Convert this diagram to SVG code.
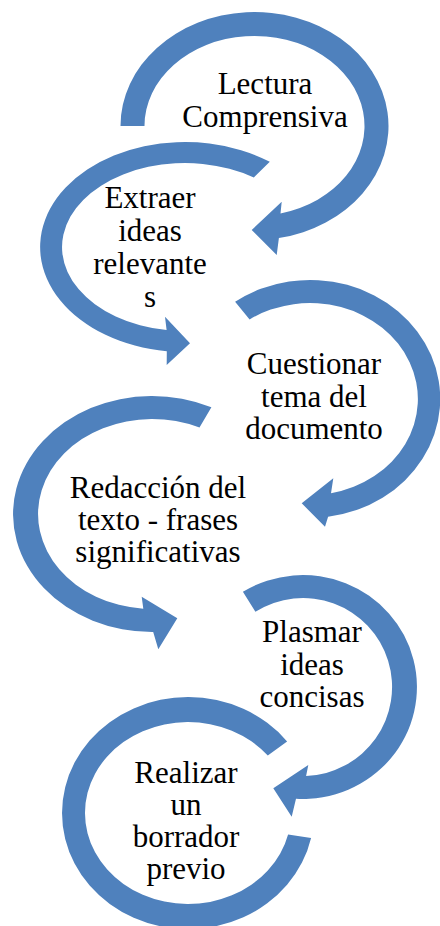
<svg xmlns="http://www.w3.org/2000/svg" width="440" height="926" viewBox="0 0 440 926">
<style>
.arc{fill:#4F81BD;stroke:none}
.t{font-family:"Liberation Serif","Times New Roman",serif;font-size:31px;fill:#000;text-anchor:middle}
</style>
<rect width="440" height="926" fill="#fff"/>
<g id="connectors"></g>
<g id="node1">
<path class="arc" d="M120.5,126 A134,114 0 1 1 278.9,238.1 L276.7,255 L251.7,230 L281.7,201.7 L280.5,213.4 A110,90 0 1 0 144.5,126 Z"/>
<text class="t" x="265" y="94">Lectura</text>
<text class="t" x="265" y="126.5">Comprensiva</text>
</g>
<g id="node2">
<path class="arc" d="M269.8,161.8 A145,105 0 1 0 166.8,351.2 L166.7,365 L190,343.3 L165,316.7 L166.6,330.1 A123,84 0 1 1 253.8,177.4 Z"/>
<text class="t" x="150" y="208">Extraer</text>
<text class="t" x="150" y="241">ideas</text>
<text class="t" x="150" y="273.5">relevante</text>
<text class="t" x="150" y="306.5">s</text>
</g>
<g id="node3">
<path class="arc" d="M235.1,301.8 A130,119 0 1 1 328.1,516.8 L325,526.7 L301.7,503.3 L333.3,478.3 L331,493.2 A108,96 0 1 0 249.6,319.4 Z"/>
<text class="t" x="314" y="374">Cuestionar</text>
<text class="t" x="314" y="406.5">tema del</text>
<text class="t" x="314" y="438.5">documento</text>
</g>
<g id="node4">
<path class="arc" d="M211.4,407.3 A139,118 0 1 0 153.2,632 L158.3,649.3 L177.3,618.3 L141.7,596.7 L143.3,608.7 A114,95 0 1 1 199.5,427.6 Z"/>
<text class="t" x="158" y="498">Redacción del</text>
<text class="t" x="158" y="530">texto - frases</text>
<text class="t" x="158" y="562">significativas</text>
</g>
<g id="node5">
<path class="arc" d="M242.9,591.8 A114,112 0 1 1 296,798.8 L291.7,816.7 L273.3,788.3 L308.3,765 L306.1,775.9 A89,89 0 1 0 255.4,611.8 Z"/>
<text class="t" x="312" y="641.5">Plasmar</text>
<text class="t" x="312" y="674.5">ideas</text>
<text class="t" x="312" y="706.5">concisas</text>
</g>
<g id="node6">
<path class="arc" d="M287.1,741.4 A126,116 0 1 0 311.1,837.9 L288.1,834.4 A103,91 0 1 1 267.8,755.5 Z"/>
<text class="t" x="186" y="782.5">Realizar</text>
<text class="t" x="186" y="815">un</text>
<text class="t" x="186" y="847">borrador</text>
<text class="t" x="186" y="879">previo</text>
</g>
</svg>
